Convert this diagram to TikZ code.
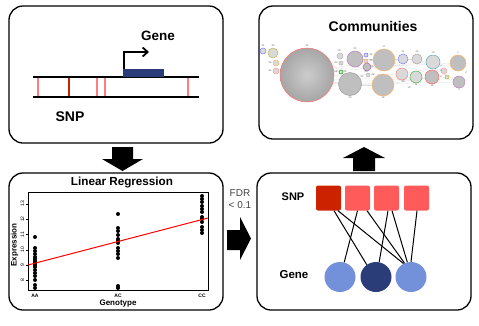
\documentclass[tikz,border=0pt]{standalone}
\usepackage{fontspec}
\setmainfont{Liberation Sans}
\usetikzlibrary{arrows.meta,shapes.geometric}
\definecolor{snpdark}{HTML}{CC2200}
\definecolor{snplight}{HTML}{FF5B5B}
\definecolor{snpline}{HTML}{FF7F7F}
\definecolor{genelight}{HTML}{7391DB}
\definecolor{genedark}{HTML}{2A3D78}
\definecolor{fdrgray}{HTML}{444444}
\begin{document}
\begin{tikzpicture}[x=1pt,y=-1pt,
  panel/.style={draw, line width=1.3pt, rounded corners=14pt, minimum width=214pt, inner sep=0pt},
  blockarrow/.style={fill=black, draw=none},
  lbl/.style={font=\bfseries\fontsize{#1}{#1}\selectfont, inner sep=0pt},
  bar/.style={line width=2.6pt, draw=#1},
  dot/.style={circle, fill=black, minimum size=4pt, inner sep=0pt},
  tick/.style={font=\fontsize{5}{5}\selectfont, inner sep=0pt},
  snpsq/.style={rounded corners=2pt, minimum width=25pt, minimum height=25pt, inner sep=0pt, fill=#1},
  genec/.style={ellipse, minimum width=31pt, minimum height=30pt, inner sep=0pt, fill=#1},
  link/.style={line width=1pt},
  comm/.style={line width=0.5pt, fill=gray!30, draw=#1},
  cnum/.style={font=\fontsize{2.5}{2.5}\selectfont, inner sep=0pt, text=gray!70!black},
  edge/.style={draw=gray!25, line width=0.3pt}
]
\useasboundingbox (0,0) rectangle (479,325);

% panels
\node[panel, minimum height=137pt] (p1) at (116,74.5) {};
\node[panel, minimum height=133pt] (p2) at (366,72.5) {};
\node[panel, minimum height=137pt] (p3) at (116,241.5) {};
\node[panel, minimum height=137pt] (p4) at (364,241.5) {};

% block arrows
\fill[blockarrow] (112,147) -- (133,147) -- (133,159) -- (143,159) -- (122.5,171) -- (102,159) -- (112,159) -- cycle;
\fill[blockarrow] (353,171) -- (375,171) -- (375,158) -- (385,158) -- (364,147) -- (343,158) -- (353,158) -- cycle;
\fill[blockarrow] (227,230) -- (240,230) -- (240,217) -- (251,238.5) -- (240,260) -- (240,250) -- (227,250) -- cycle;
\node[align=center, text=fdrgray, font=\fontsize{10}{12}\selectfont, inner sep=0pt] (fdr) at (240,199) {FDR\\< 0.1};

% ---------- panel 1: DNA ----------
\foreach \x/\c in {38/snpline,69/snpdark,97/snpline,105/snpline,188/snpline}
  \draw[bar=\c] (\x,78) -- (\x,96);
\draw[line width=1.8pt] (33,77) -- (199,77);
\draw[line width=1.8pt] (33,97) -- (199,97);
\fill[genedark] (123,69) rectangle (164,77);
\draw[line width=1.8pt, -{Straight Barb[length=5pt,width=9pt]}] (124,69) -- (124,52) -- (149,52);
\node[lbl=13.5] (genet) at (158,36) {Gene};
\node[lbl=14] (snpt) at (70,117) {SNP};

% ---------- panel 2: communities ----------
\node[lbl=14] (commt) at (373,26) {Communities};
\foreach \xa/\ya/\xb/\yb in {307/78/350/85,307/82/383/86,307/72/384/60,307/80/416/77,307/84/432/78,307/76/402/74,307/70/458/63,307/86/459/82,307/74/433/62,307/68/355/59,
  350/85/383/85,355/59/384/60,384/60/433/62,383/85/432/77,402/74/458/63,416/59/459/82,417/77/458/63,350/85/432/78,355/59/417/59,384/60/459/82}
  \draw[edge] (\xa,\ya) -- (\xb,\yb);
\shade[inner color=gray!40, outer color=gray!70] (307,75) circle (27);
\draw[line width=0.5pt, draw=red!55] (307,75) circle (27);
\foreach \x/\y/\r/\c in {263/51/3/blue!50,273/53/5/olive!60,276/63/3/orange!60,276/71/3/red!40,
  340/56/3/gray!60,341/63/2/gray!60,341/72/2/green!60!black,366/55/2/blue!60,366/61/2/orange!70,368/75/2/gray!60,
  403/59/5/blue!50,402/74/6/red!50,417/59/5/gray!70,416/77/6/green!40!gray,433/62/7/cyan!50!gray,444/71/3/red!35,447/77/2/yellow!70!black}
  \filldraw[comm=\c] (\x,\y) circle (\r);
\foreach \x/\y/\r/\c in {355/59/8/violet!50,367/67/4/violet!60,350/84/11.5/gray!80,384/60/11/orange!60,383/85/11/orange!60,432/77/7/red!60,458/63/8/orange!60,459/82/6/violet!50}
  \filldraw[comm=\c, fill=gray!50] (\x,\y) circle (\r);
\foreach \x/\y/\t in {263/46/31,273/46/33,270/63/36,270/71/34,307/46/41,339/51/26,336/63/27,336/72/28,345/72/29,355/49/23,371/55/34,371/61/30,372/67/25,373/75/22,
  366/72/20,350/98/30,384/47/17,383/98/18,403/52/11,403/82/39,417/52/12,416/85/14,433/53/10,432/86/15,409/88/13,441/66/4,441/71/6,441/77/9,458/53/1,459/90/3,466/73/2,362/77/24}
  \node[cnum] at (\x,\y) {\t};

% ---------- panel 3: regression ----------
\node[lbl=11.7] (lrt) at (122,182) {Linear Regression};
\draw[line width=0.6pt] (28,192) rectangle (208,290);
\foreach \v in {8,...,13}{
  \pgfmathsetmacro{\yy}{265-(\v-9)*15.3}
  \draw[line width=0.4pt] (28,\yy) -- (26,\yy);
  \node[tick, rotate=90] at (22.5,\yy) {\v};
}
\node[tick, font=\bfseries\fontsize{5}{5}\selectfont] (aa) at (35,296) {AA};
\node[tick, font=\bfseries\fontsize{5}{5}\selectfont] (ac) at (118,296) {AC};
\node[tick, font=\bfseries\fontsize{5}{5}\selectfont] (cc) at (202,296) {CC};
\node[lbl=8] (geno) at (118,303.5) {Genotype};
\node[lbl=8, rotate=90] (expr) at (14.5,245) {Expression};
\foreach \y in {237,248,251,254,257,259,261,263,265,267,270,273,276,280,285,288}
  \node[dot] at (35,\y) {};
\foreach \y in {214,228,231,235,239,241,243,248,251,254,258,286,288}
  \node[dot] at (118,\y) {};
\foreach \y in {196,199,202,206,209,212,217,219,222,227,230,233}
  \node[dot] at (202,\y) {};
\draw[red, line width=1pt] (28,265) -- (208,218);

% ---------- panel 4: network ----------
\node[snpsq=snpdark] (s1) at (328.5,198) {};
\node[snpsq=snplight] (s2) at (357.5,198) {};
\node[snpsq=snplight] (s3) at (386.5,198) {};
\node[snpsq=snplight] (s4) at (416.5,198) {};
\node[genec=genelight] (g1) at (340,277) {};
\node[genec=genedark] (g2) at (376,277) {};
\node[genec=genelight] (g3) at (411,277) {};
\draw[link] ([xshift=5.5pt]s1.south) -- (g2.127);
\draw[link] ([xshift=9.5pt]s1.south) -- (g3.119);
\draw[link] (s2.south) -- (g1.74);
\draw[link] ([xshift=9.5pt]s2.south) -- (g3.115);
\draw[link] ([xshift=1.5pt]s3.south) -- (g2.78);
\draw[link] ([xshift=5.5pt]s3.south) -- (g3.104);
\draw[link] ([xshift=0.5pt]s4.south) -- (g3.90);
\node[lbl=11] (snp2) at (293,197) {SNP};
\node[lbl=11.5] (gene2) at (294,275) {Gene};
\end{tikzpicture}
\end{document}
